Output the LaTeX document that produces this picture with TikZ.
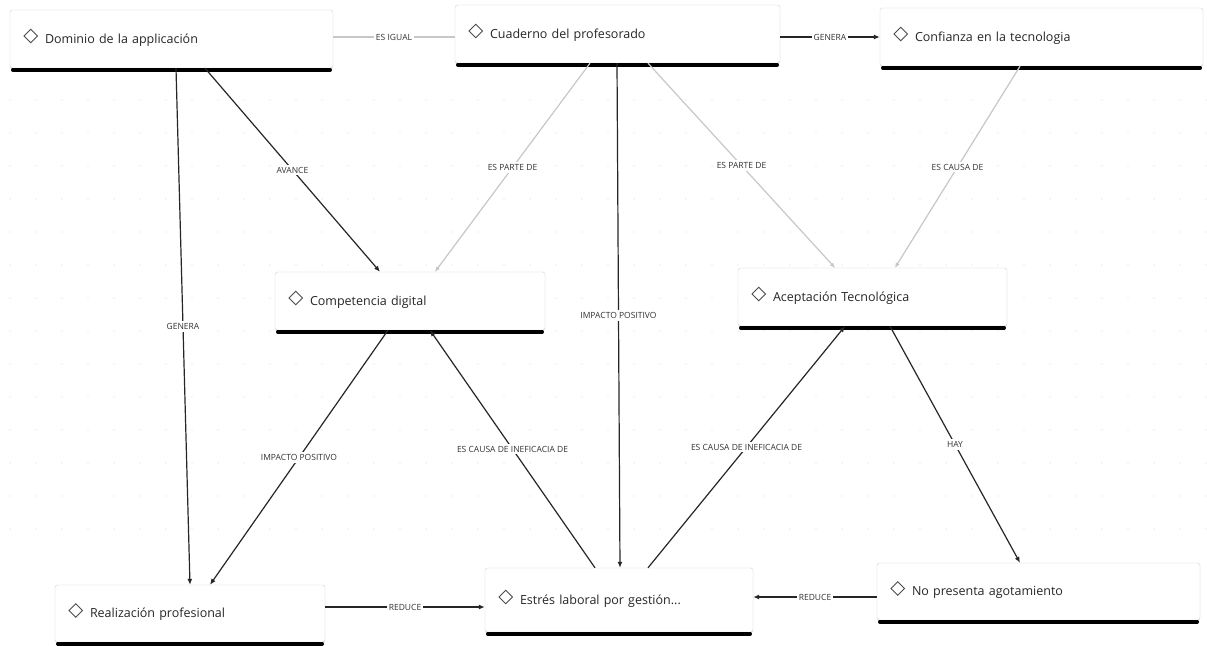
\documentclass[tikz,border=0pt]{standalone}
\usepackage{fontspec}
\setmainfont{Open Sans}
\usetikzlibrary{arrows.meta,calc,shadows}
\tikzset{
  concept/.style={draw=black!18, fill=white, rounded corners=2.5pt, inner xsep=0pt, inner ysep=0pt,
    font=\fontsize{12.5}{14}\selectfont, text=black!85, align=left,
    drop shadow={shadow xshift=0pt, shadow yshift=-1pt, opacity=0.18}},
  bar/.style={line width=3.6pt, black, line cap=round},
  icon/.style={draw=black!70, line width=0.9pt, shape=rectangle, rotate=45, minimum size=9.5pt, inner sep=0pt, fill=white},
  strong/.style={draw=black!85, line width=1.2pt, -{Latex[length=6pt,width=5pt]}},
  plain/.style={draw=black!85, line width=1.2pt},
  faint/.style={draw=black!22, line width=1.2pt, -{Latex[length=5pt,width=4.5pt]}},
  faintplain/.style={draw=black!22, line width=1.2pt},
  lbl/.style={fill=white, inner sep=2pt, font=\fontsize{8.5}{9}\selectfont, text=black!80},
}
\newcommand{\cnode}[6]{% name, cx, cy, width, height, text
  \node[concept, minimum width=#4pt, minimum height=#5pt, text width=#4pt] (#1) at (#2,#3) {\hspace*{35pt}#6\vphantom{Ág}\\[4pt]};
  \draw[bar] ($(#1.south west)+(3,1.5)$) -- ($(#1.south east)+(-3,1.5)$);
  \node[icon] (#1i) at ($(#1.west)+(21,-3)$) {};
}
\begin{document}
\begin{tikzpicture}[x=1pt,y=-1pt]
\useasboundingbox (0,0) rectangle (1207,645);
\fill[white] (0,0) rectangle (1207,645);
% faint dot grid
\foreach \gx in {10,36,...,1207} {
  \foreach \gy in {100,133,...,560} {
    \fill[black!7] (\gx,\gy) circle (0.8pt);
  }
}
\cnode{dom}{171.5}{39}{323}{58}{Dominio de la applicación}
\cnode{cua}{617.5}{34}{325}{58}{Cuaderno del profesorado}
\cnode{con}{1041.5}{37}{323}{58}{Confianza en la tecnologia}
\cnode{com}{410}{301}{270}{58}{Competencia digital}
\cnode{ace}{872.5}{297}{269}{58}{Aceptación Tecnológica}
\cnode{rea}{190}{613.5}{270}{57}{Realización profesional}
\cnode{est}{619}{600}{268}{64}{Estrés laboral por gestión...}
\cnode{nop}{1038.5}{591.5}{323}{57}{No presenta agotamiento}

% edges
\draw[faintplain] (cua.west |- 0,37) -- node[lbl]{ES IGUAL} (dom.east |- 0,37);
\draw[strong] (cua.east |- 0,37) -- node[lbl]{GENERA} (con.west |- 0,37);
\draw[strong] (dom.south -| 205,0) -- node[lbl]{AVANCE} (com.north -| 380,0);
\draw[strong] (dom.south -| 176,0) -- node[lbl]{GENERA} (rea.north -| 190,0);
\draw[faint] (cua.south -| 590,0) -- node[lbl]{ES PARTE DE} (com.north -| 435,0);
\draw[faint] (cua.south -| 648,0) -- node[lbl]{ES PARTE DE} (ace.north -| 835,0);
\draw[faint] (con.south -| 1020,0) -- node[lbl]{ES CAUSA DE} (ace.north -| 895,0);
\draw[strong] (cua.south -| 617,0) -- node[lbl]{IMPACTO POSITIVO} (est.north -| 620,0);
\draw[strong] (com.south -| 388,0) -- node[lbl]{IMPACTO POSITIVO} (rea.north -| 210,0);
\draw[strong] (est.north -| 595,0) -- node[lbl]{ES CAUSA DE INEFICACIA DE} (com.south -| 430,0);
\draw[strong] (est.north -| 648,0) -- node[lbl]{ES CAUSA DE INEFICACIA DE} (ace.south -| 845,0);
\draw[strong] (ace.south -| 890,0) -- node[lbl]{HAY} (nop.north -| 1020,0);
\draw[strong] (rea.east |- 0,607) -- node[lbl]{REDUCE} (est.west |- 0,607);
\draw[strong] (nop.west |- 0,597) -- node[lbl]{REDUCE} (est.east |- 0,597);
\end{tikzpicture}
\end{document}
